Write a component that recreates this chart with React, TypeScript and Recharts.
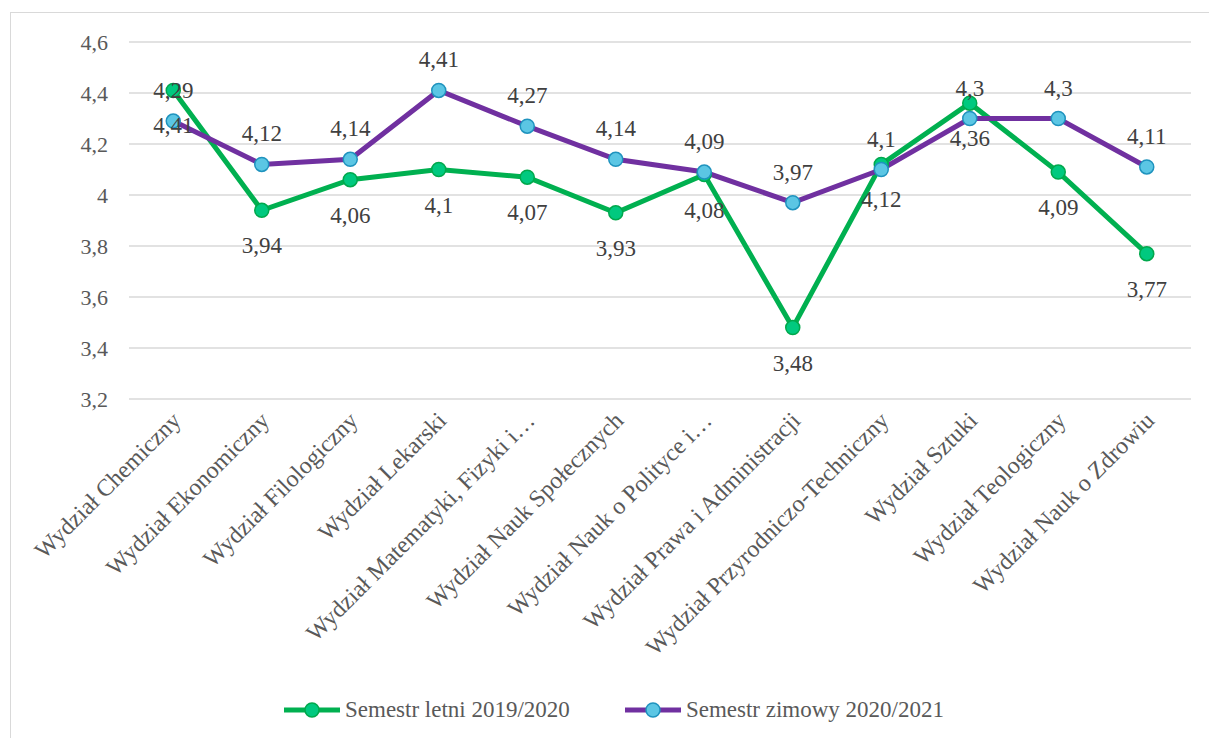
import React from 'react';
import { LineChart, Line, XAxis, YAxis, CartesianGrid, Legend, LabelList } from 'recharts';

const categories = [
  'Wydział Chemiczny',
  'Wydział Ekonomiczny',
  'Wydział Filologiczny',
  'Wydział Lekarski',
  'Wydział Matematyki, Fizyki i…',
  'Wydział Nauk Społecznych',
  'Wydział Nauk o Polityce i…',
  'Wydział Prawa i Administracji',
  'Wydział Przyrodniczo-Techniczny',
  'Wydział Sztuki',
  'Wydział Teologiczny',
  'Wydział Nauk o Zdrowiu',
];

const summer = [4.41, 3.94, 4.06, 4.1, 4.07, 3.93, 4.08, 3.48, 4.12, 4.36, 4.09, 3.77];
const winter = [4.29, 4.12, 4.14, 4.41, 4.27, 4.14, 4.09, 3.97, 4.1, 4.3, 4.3, 4.11];

const yTicks = [3.2, 3.4, 3.6, 3.8, 4, 4.2, 4.4, 4.6];

const SERIES = [
  { key: 'summer', name: 'Semestr letni 2019/2020', line: '#00B050', fill: '#00C97F', stroke: '#00A84C' },
  { key: 'winter', name: 'Semestr zimowy 2020/2021', line: '#7030A0', fill: '#5BC6E4', stroke: '#1F93BE' },
];

const data = categories.map((name, i) => ({ name, summer: summer[i], winter: winter[i] }));

const FONT = '"Liberation Serif", "Times New Roman", serif';
const fmt = (v: number) => String(v).replace('.', ',');

const XTick = ({ x, y, payload }: any) => {
  const ax = x + 9;
  const ay = y + 23;
  return (
    <text
      x={ax}
      y={ay}
      textAnchor="end"
      transform={`rotate(-45 ${ax} ${ay})`}
      style={{ fontFamily: FONT, fontSize: 24 }}
      fill="#595959"
    >
      {payload.value}
    </text>
  );
};

const YTick = ({ x, y, payload }: any) => (
  <text x={x} y={y + 8} textAnchor="end" style={{ fontFamily: FONT, fontSize: 22 }} fill="#595959">
    {fmt(payload.value)}
  </text>
);

const labelBelow = (props: any) => {
  const { x, y, value } = props;
  return (
    <text x={x} y={y + 43} textAnchor="middle" style={{ fontFamily: FONT, fontSize: 23 }} fill="#404040">
      {fmt(value)}
    </text>
  );
};

const labelAbove = (props: any) => {
  const { x, y, value } = props;
  return (
    <text x={x} y={y - 23} textAnchor="middle" style={{ fontFamily: FONT, fontSize: 23 }} fill="#404040">
      {fmt(value)}
    </text>
  );
};

const LegendContent = () => (
  <div style={{ display: 'flex', alignItems: 'center', height: 30, fontFamily: FONT, fontSize: 23, color: '#595959' }}>
    {SERIES.map((s, i) => (
      <div key={s.key} style={{ display: 'flex', alignItems: 'center', marginRight: i === 0 ? 55 : 0 }}>
        <svg width={56} height={18} style={{ marginRight: 5 }}>
          <line x1={0} y1={9} x2={56} y2={9} stroke={s.line} strokeWidth={5} strokeLinecap="round" />
          <circle cx={28} cy={9} r={7} fill={s.fill} stroke={s.stroke} strokeWidth={1.5} />
        </svg>
        <span style={{ whiteSpace: 'nowrap' }}>{s.name}</span>
      </div>
    ))}
  </div>
);

export default function App() {
  return (
    <div style={{ position: 'fixed', left: 0, top: 0, width: 1209, height: 738, overflow: 'hidden', background: '#fff' }}>
      <div
        style={{
          position: 'absolute',
          left: 10,
          top: 12,
          width: 1260,
          height: 800,
          border: '1.5px solid #d9d9d9',
        }}
      />
      <div style={{ position: 'absolute', left: 0, top: 0 }}>
        <LineChart width={1209} height={738} data={data} margin={{ top: 42, right: 18, bottom: 13, left: 0 }}>
          <CartesianGrid vertical={false} stroke="#d9d9d9" strokeWidth={1.5} />
          <XAxis
            dataKey="name"
            scale="band"
            interval={0}
            height={296}
            axisLine={false}
            tickLine={false}
            tickSize={0}
            tickMargin={0}
            tick={<XTick />}
          />
          <YAxis
            width={129}
            domain={[3.2, 4.6]}
            ticks={yTicks}
            axisLine={false}
            tickLine={false}
            tickSize={0}
            tickMargin={21}
            tick={<YTick />}
          />
          <Legend
            verticalAlign="bottom"
            content={<LegendContent />}
            wrapperStyle={{ left: 284, width: 760 }}
          />
          <Line
            dataKey="summer"
            name={SERIES[0].name}
            stroke={SERIES[0].line}
            strokeWidth={5}
            dot={{ r: 7, fill: SERIES[0].fill, stroke: SERIES[0].stroke, strokeWidth: 1.5 }}
            isAnimationActive={false}
          >
            <LabelList dataKey="summer" content={labelBelow} />
          </Line>
          <Line
            dataKey="winter"
            name={SERIES[1].name}
            stroke={SERIES[1].line}
            strokeWidth={5}
            dot={{ r: 7, fill: SERIES[1].fill, stroke: SERIES[1].stroke, strokeWidth: 1.5 }}
            isAnimationActive={false}
          >
            <LabelList dataKey="winter" content={labelAbove} />
          </Line>
        </LineChart>
      </div>
    </div>
  );
}
